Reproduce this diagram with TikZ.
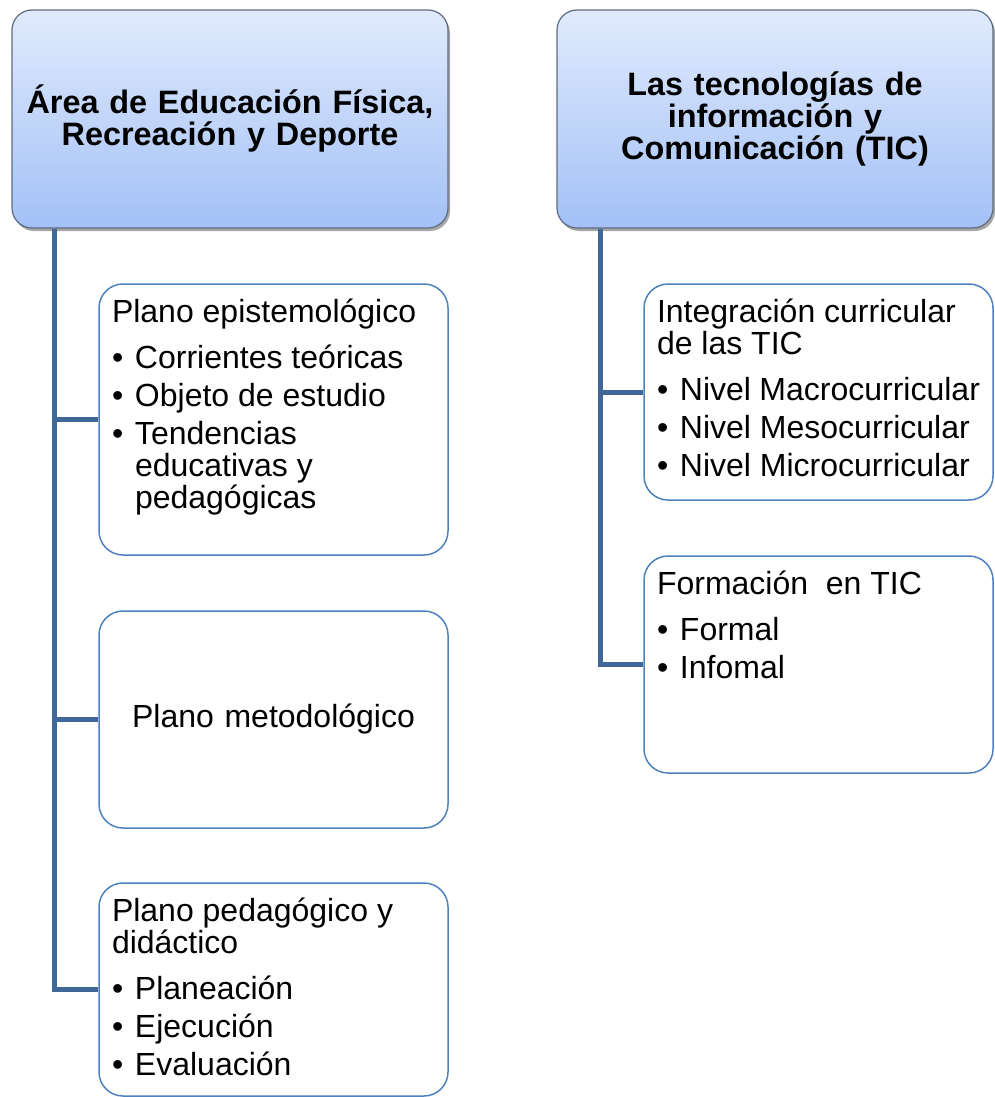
\documentclass[tikz,border=0pt]{standalone}
\usepackage{fontspec}
\setmainfont{Liberation Sans}
\usepackage{tikz}
\usetikzlibrary{shadows}
\definecolor{hdtop}{HTML}{E0EAFC}
\definecolor{hdbot}{HTML}{A3C1F7}
\definecolor{hdline}{HTML}{5E6C80}
\definecolor{boxline}{HTML}{4F81BD}
\definecolor{trunk}{HTML}{3F6797}
\tikzset{head/.style={rectangle,rounded corners=20pt,draw=hdline,line width=1.2pt,top color=hdtop,bottom color=hdbot,minimum width=436pt,minimum height=218pt,inner xsep=0pt,align=center,text width=420pt,font=\bfseries\fontsize{32.4}{32}\selectfont,drop shadow={shadow xshift=2pt,shadow yshift=-3pt,opacity=0.35,fill=black}}}
\tikzset{sub/.style={rectangle,rounded corners=24pt,draw=boxline,line width=1.5pt,fill=white,minimum width=349pt,inner xsep=13pt,inner ysep=0pt,font=\fontsize{32}{32}\selectfont}}
\tikzset{conn/.style={draw=trunk,line width=5pt}}
\newcommand{\hd}[1]{\rule{0pt}{38pt}#1\par\vspace{8pt}}
\newcommand{\bul}[1]{\par\vspace{6pt}\hangindent=23pt\hangafter=1\noindent\makebox[23pt][l]{\textbullet}#1}
\newcommand{\subtext}[2]{\parbox[c][#1][t]{323pt}{\raggedright #2}}

\begin{document}
\begin{tikzpicture}[x=1pt,y=-1pt]
    \useasboundingbox (0,0) rectangle (994,1097);
    \node[head] (area) at (230,119) {\raisebox{-3pt}{Área de Educación Física,}\\\raisebox{-3pt}{Recreación y Deporte}};
    \node[head] (tic) at (775,119) {\raisebox{-2pt}{Las tecnologías de}\\\raisebox{-2pt}{información y}\\\raisebox{-2pt}{Comunicación (TIC)}};

    \node[sub] (epis) at (273.5,419.5) {\subtext{271pt}{\hd{Plano epistemológico}\bul{Corrientes teóricas}\bul{Objeto de estudio}\bul{Tendencias educativas y pedagógicas}}};
    \node[sub,minimum height=217pt,align=center,text width=323pt] (meto) at (273.5,719.5) {Plano metodológico};
    \node[sub] (peda) at (273.5,989.5) {\subtext{213pt}{\hd{Plano pedagógico y didáctico}\bul{Planeación}\bul{Ejecución}\bul{Evaluación}}};

    \node[sub] (integ) at (818.5,392) {\subtext{216pt}{\hd{Integración curricular de las TIC}\bul{Nivel Macrocurricular}\bul{Nivel Mesocurricular}\bul{Nivel Microcurricular}}};
    \node[sub] (form) at (818.5,664.5) {\subtext{217pt}{\hd{Formación\ \ en TIC}\bul{Formal}\bul{Infomal}}};

    \coordinate (lt) at ([xshift=43pt]area.south west);
    \coordinate (rt) at ([xshift=44pt]tic.south west);
    \draw[conn] (lt) |- (epis.west);
    \draw[conn] (lt) |- (meto.west);
    \draw[conn] (lt) |- (peda.west);
    \draw[conn] (rt) |- (integ.west);
    \draw[conn] (rt) |- (form.west);
\end{tikzpicture}
\end{document}
